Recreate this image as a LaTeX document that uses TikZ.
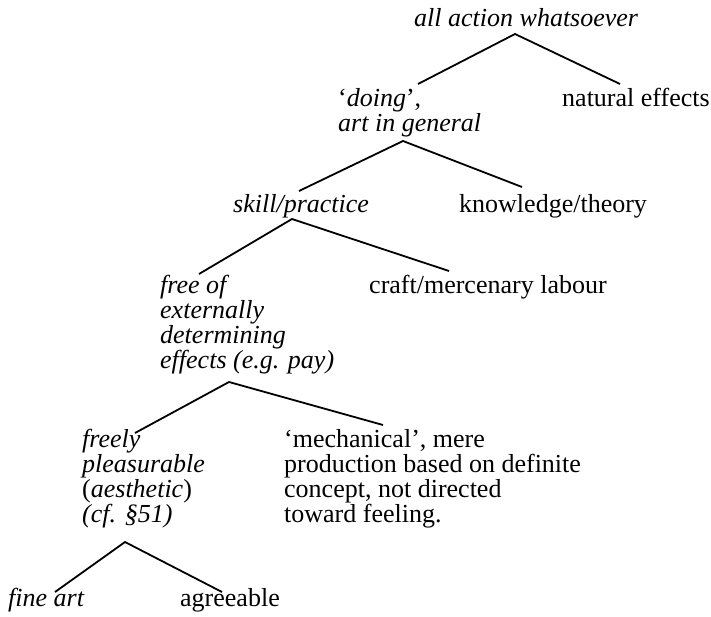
\documentclass[tikz,border=0pt]{standalone}
\usepackage{fontspec}
\setmainfont{Liberation Serif}
\begin{document}
\begin{tikzpicture}[x=1pt,y=-1pt,
  txt/.style={inner sep=0pt, anchor=base west, align=left, font=\fontsize{26}{25}\selectfont},
  branch/.style={line width=1.8pt}]
\useasboundingbox (0,0) rectangle (711,617);
% texts (anchor = baseline of the last line)
\node[txt] (all) at (414,27) {\textit{all action whatsoever}};
\node[txt] (doing) at (338,132) {‘\textit{doing}’,\\\textit{art in general}};
\node[txt] (nat) at (562,107) {natural effects};
\node[txt] (skill) at (233,213) {\textit{skill/practice}};
\node[txt] (know) at (459,213) {knowledge/theory};
\node[txt] (free) at (160,368) {\textit{free of}\\\textit{externally}\\\textit{determining}\\\textit{effects (e.g. pay)}};
\node[txt] (craft) at (369,293) {craft/mercenary labour};
\node[txt] (freely) at (82,522) {\textit{freely}\\\textit{pleasurable}\\(\textit{aesthetic})\\\textit{(cf. §51)}};
\node[txt] (mech) at (284,522) {‘mechanical’, mere\\production based on definite\\concept, not directed\\toward feeling.};
\node[txt] (fine) at (8,606) {\textit{fine art}};
\node[txt] (agree) at (180,606) {agreeable};
% branch points
\coordinate (a1) at (515,34);  \coordinate (l1) at (418,84);  \coordinate (r1) at (620,84);
\coordinate (a2) at (403,141); \coordinate (l2) at (299,191); \coordinate (r2) at (522,187);
\coordinate (a3) at (292,219); \coordinate (l3) at (199,274); \coordinate (r3) at (449,271);
\coordinate (a4) at (229,382); \coordinate (l4) at (135,433); \coordinate (r4) at (383,425);
\coordinate (a5) at (125,542); \coordinate (l5) at (55,592);  \coordinate (r5) at (222,592);
\draw[branch] (l1) -- (a1) -- (r1);
\draw[branch] (l2) -- (a2) -- (r2);
\draw[branch] (l3) -- (a3) -- (r3);
\draw[branch] (l4) -- (a4) -- (r4);
\draw[branch] (l5) -- (a5) -- (r5);
\end{tikzpicture}
\end{document}
